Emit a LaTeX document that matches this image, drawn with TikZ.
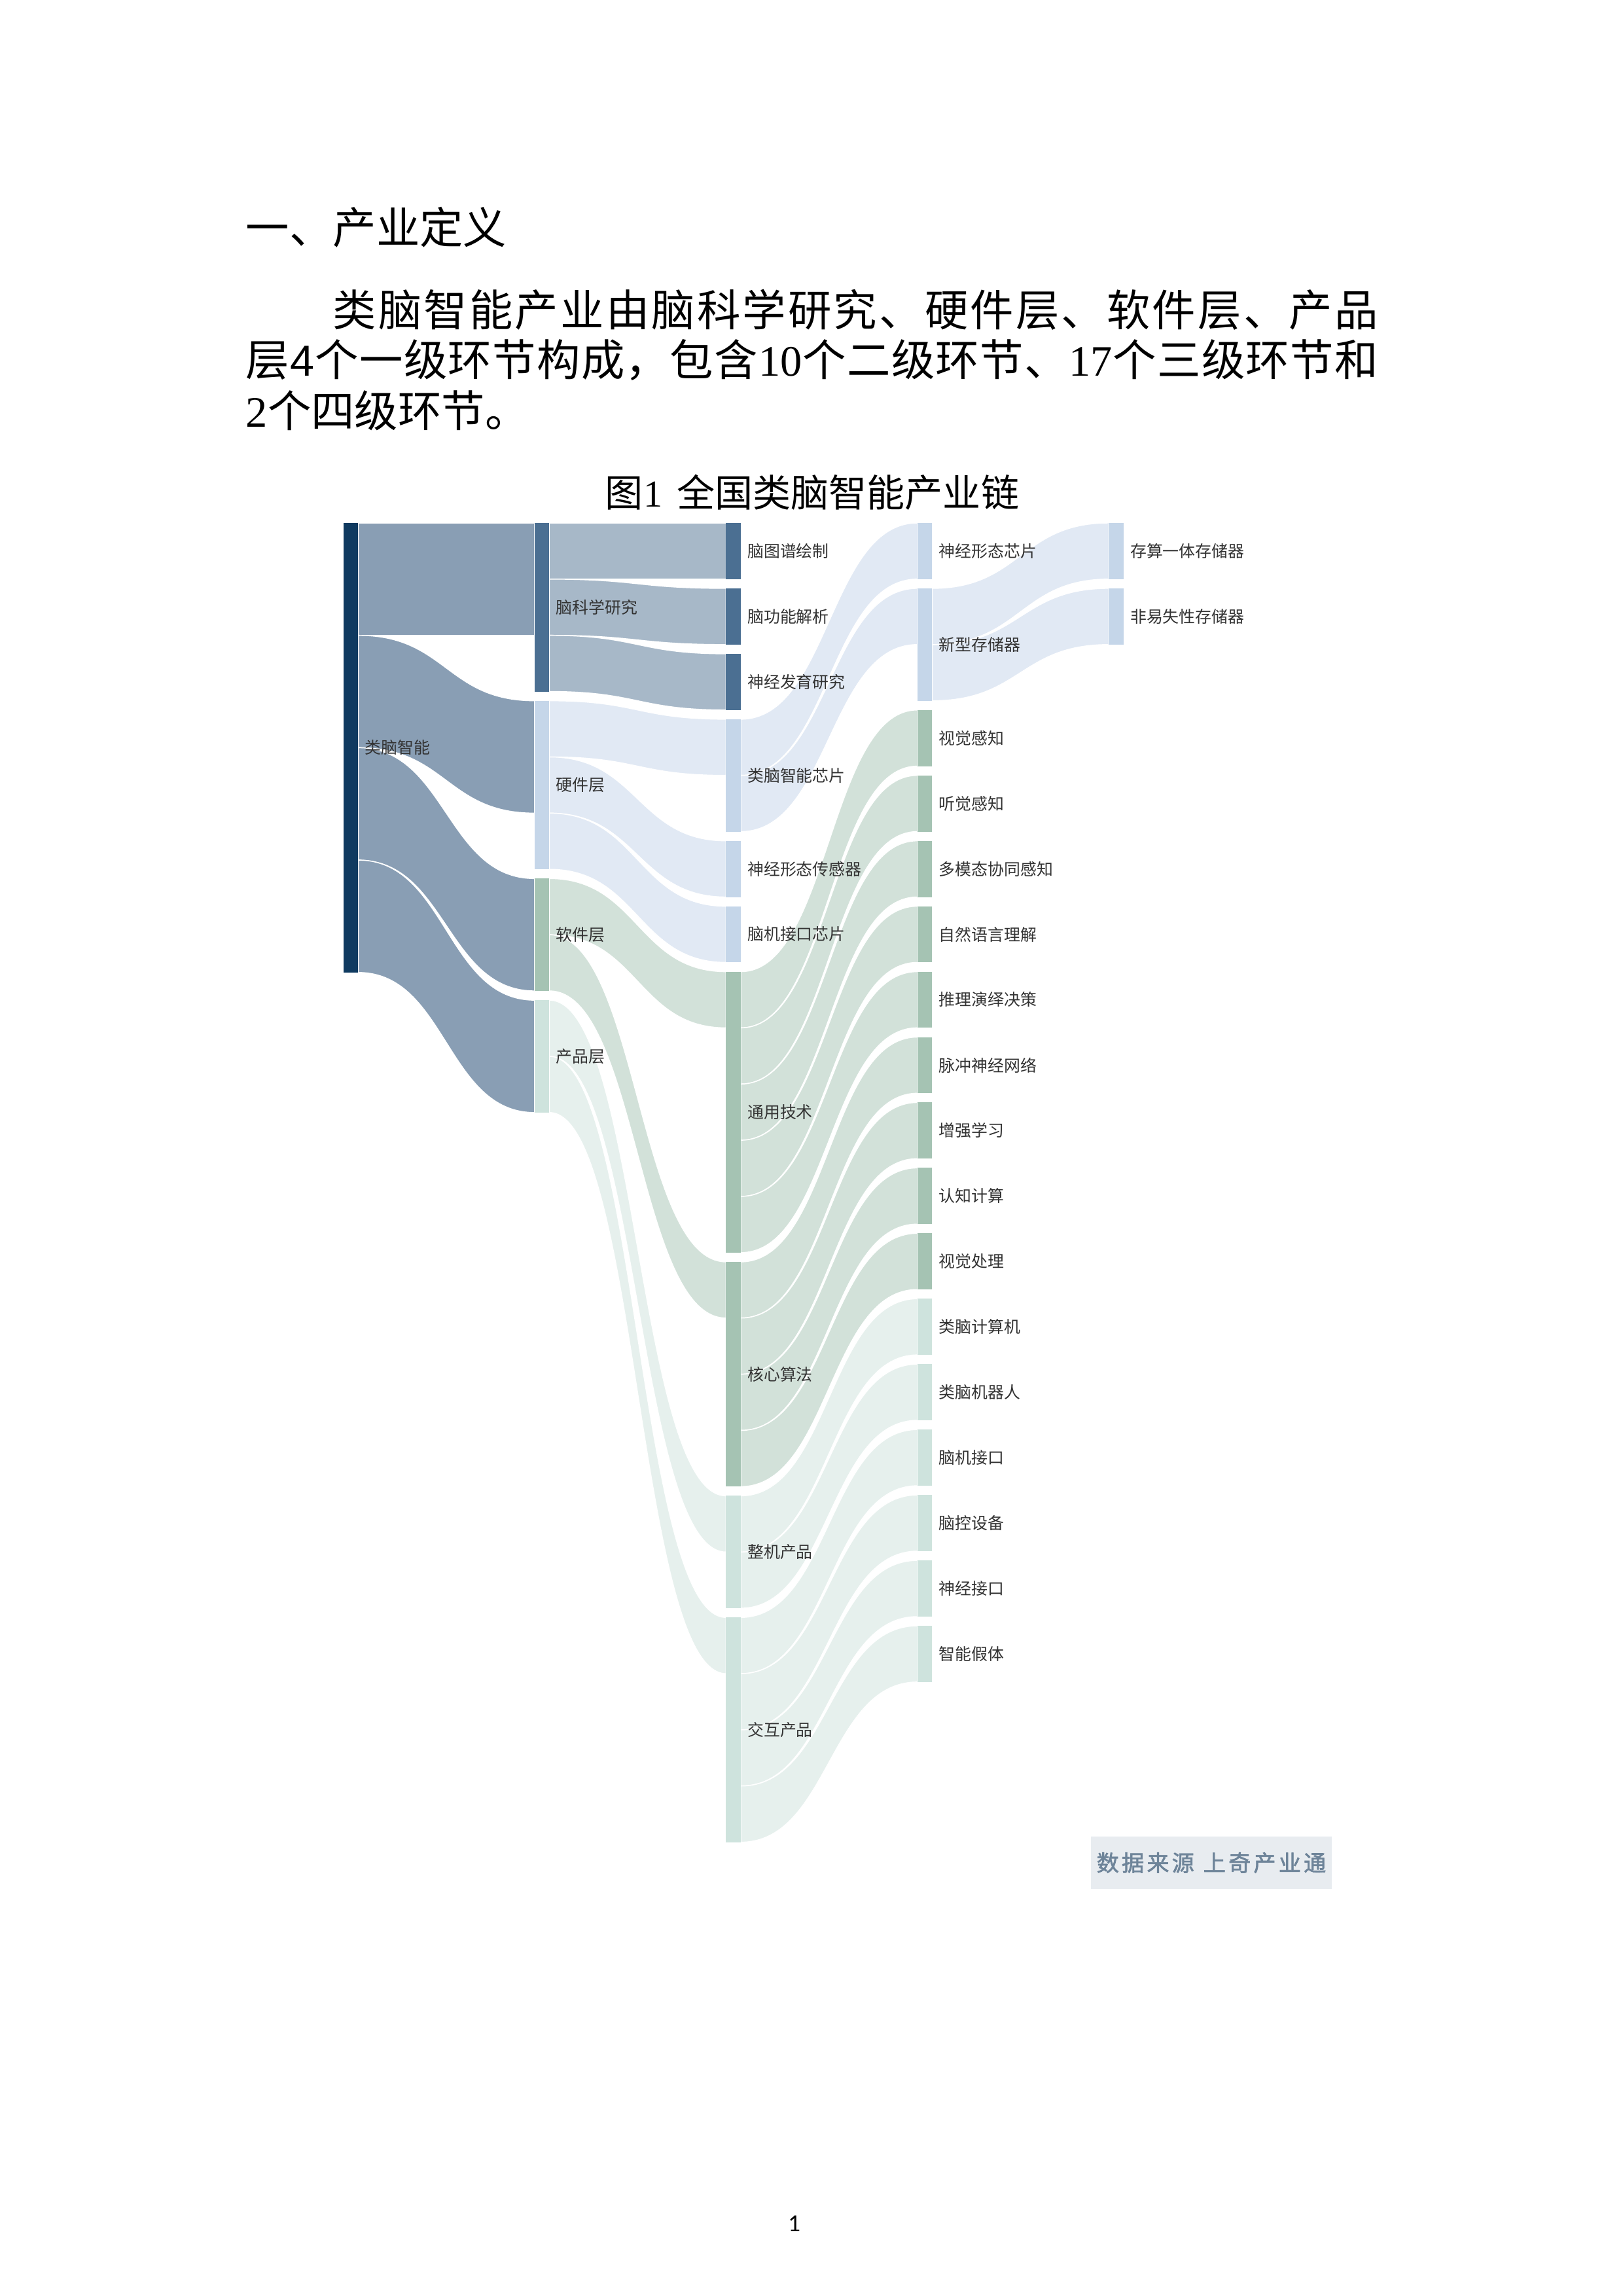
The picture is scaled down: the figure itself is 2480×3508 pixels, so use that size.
\documentclass[tikz,border=0pt]{standalone}
\usepackage{fontspec}
\setmainfont{Noto Sans CJK SC}
\newfontfamily\serifdig{Liberation Serif}
\newfontfamily\sansdig{Liberation Sans}
\newfontfamily\pagefont{Carlito}
\newfontfamily\cjkbold[FakeBold=2]{Noto Sans CJK SC}
\usetikzlibrary{calc,backgrounds}
\newdimen\pxu \pxu=0.0846667mm
\definecolor{cA}{RGB}{15,58,96}
\definecolor{cB}{RGB}{75,111,146}
\definecolor{cC}{RGB}{197,214,233}
\definecolor{cD}{RGB}{165,195,179}
\definecolor{cE}{RGB}{206,227,221}
\definecolor{lA}{RGB}{137,158,180}
\definecolor{lB}{RGB}{167,184,200}
\definecolor{lC}{RGB}{225,233,244}
\definecolor{lD}{RGB}{210,225,217}
\definecolor{lE}{RGB}{230,240,237}
\definecolor{lab}{RGB}{51,51,51}
\definecolor{legtxt}{RGB}{110,132,153}
\definecolor{legbg}{RGB}{232,236,240}
\def\sprd#1{\ifx#1\relax\else{#1}\hfil\expandafter\sprd\fi}
\newcommand\ls{\hspace{4.3\pxu}}
\newcommand\flow[6]{%
  \coordinate (fs) at ($(#1.north east)+(0,#2)$);
  \coordinate (ft) at ($(#3.north west)+(0,#4)$);
  \coordinate (fsb) at ($(fs)+(0,#5)$);
  \coordinate (ftb) at ($(ft)+(0,#5)$);
  \coordinate (fm) at ($(fs)!0.5!(ft)$);
  \fill[lnk, fill=#6] (fs) .. controls (fm|-fs) and (fm|-ft) .. (ft) -- (ftb) .. controls (fm|-ftb) and (fm|-fsb) .. (fsb) -- cycle;}
\tikzset{
  bar/.style={rectangle, inner sep=0pt, outer sep=0pt, minimum width=22.6\pxu, anchor=north west},
  lbl/.style={anchor=west, inner sep=0pt, text=lab, font=\fontsize{6}{7}\selectfont},
  lnk/.style={draw=white, line width=0.35pt},
  body/.style={anchor=west, inner sep=0pt, font=\fontsize{16}{19}\selectfont}
}
\begin{document}
\begin{tikzpicture}[x=0.0846667mm, y=-0.0846667mm]
\useasboundingbox (0,0) rectangle (2480,3508);
% text
\node[body] (h1) at (375,347) {一、产业定义};
\node[body] (p1) at (507.8,473) {\hbox to 1597\pxu{\sprd 类脑智能产业由脑科学研究、硬件层、软件层、产品\relax\unskip}};
\node[body] (p2) at (375,550) {\hbox to 1730\pxu{\sprd 层{\sansdig 4}个一级环节构成，包含{\serifdig 10}个二级环节、{\serifdig 17}个三级环节和\relax\unskip}};
\node[body] (p3) at (375,627) {{\serifdig 2}个四级环节。};
\node[anchor=center, inner sep=0pt, font=\fontsize{14}{16}\selectfont] (title) at (1241,752) {图{\serifdig 1}\hspace{22\pxu}全国类脑智能产业链};
% bars
\node[bar, fill=cA, minimum height=686.8\pxu] (A) at (524.5,799) {};
\node[bar, fill=cB, minimum height=257.55\pxu] (B1) at (816.8,799) {};
\node[bar, fill=cC, minimum height=257.55\pxu] (B2) at (816.8,1070.65) {};
\node[bar, fill=cD, minimum height=171.7\pxu] (B3) at (816.8,1342.3) {};
\node[bar, fill=cE, minimum height=171.7\pxu] (B4) at (816.8,1528.1) {};
\node[bar, fill=cB, minimum height=85.85\pxu] (C1) at (1109.3,799) {};
\node[bar, fill=cB, minimum height=85.85\pxu] (C2) at (1109.3,898.95) {};
\node[bar, fill=cB, minimum height=85.85\pxu] (C3) at (1109.3,998.9) {};
\node[bar, fill=cC, minimum height=171.7\pxu] (C4) at (1109.3,1098.85) {};
\node[bar, fill=cC, minimum height=85.85\pxu] (C5) at (1109.3,1284.65) {};
\node[bar, fill=cC, minimum height=85.85\pxu] (C6) at (1109.3,1384.6) {};
\node[bar, fill=cD, minimum height=429.25\pxu] (C7) at (1109.3,1484.55) {};
\node[bar, fill=cD, minimum height=343.4\pxu] (C8) at (1109.3,1927.9) {};
\node[bar, fill=cE, minimum height=171.7\pxu] (C9) at (1109.3,2285.4) {};
\node[bar, fill=cE, minimum height=343.4\pxu] (C10) at (1109.3,2471.2) {};
\node[bar, fill=cC, minimum height=85.85\pxu] (D1) at (1401.8,799) {};
\node[bar, fill=cC, minimum height=171.7\pxu] (D2) at (1401.8,898.95) {};
\foreach \i/\c in {3/cD,4/cD,5/cD,6/cD,7/cD,8/cD,9/cD,10/cD,11/cD,12/cE,13/cE,14/cE,15/cE,16/cE,17/cE}
  \node[bar, fill=\c, minimum height=85.85\pxu] (D\i) at (1401.8,{1084.75+(\i-3)*99.95}) {};
\node[bar, fill=cC, minimum height=85.85\pxu] (E1) at (1694.2,799) {};
\node[bar, fill=cC, minimum height=85.85\pxu] (E2) at (1694.2,898.95) {};
% labels
\foreach \n/\t in {A/类脑智能, B1/脑科学研究, B2/硬件层, B3/软件层, B4/产品层,
  C1/脑图谱绘制, C2/脑功能解析, C3/神经发育研究, C4/类脑智能芯片, C5/神经形态传感器,
  C6/脑机接口芯片, C7/通用技术, C8/核心算法, C9/整机产品, C10/交互产品,
  D1/神经形态芯片, D2/新型存储器, D3/视觉感知, D4/听觉感知, D5/多模态协同感知,
  D6/自然语言理解, D7/推理演绎决策, D8/脉冲神经网络, D9/增强学习, D10/认知计算,
  D11/视觉处理, D12/类脑计算机, D13/类脑机器人, D14/脑机接口, D15/脑控设备,
  D16/神经接口, D17/智能假体, E1/存算一体存储器, E2/非易失性存储器}
  \node[lbl] (t\n) at ($(\n.east)+(9.5,0)$) {\t};
% flows
\begin{pgfonlayer}{background}
\fill[white] (0,0) rectangle (2480,3508);
\flow{A}{0}{B1}{0}{171.7}{lA}
\flow{A}{171.7}{B2}{0}{171.7}{lA}
\flow{A}{343.4}{B3}{0}{171.7}{lA}
\flow{A}{515.1}{B4}{0}{171.7}{lA}
\flow{B1}{0}{C1}{0}{85.85}{lB}
\flow{B1}{85.85}{C2}{0}{85.85}{lB}
\flow{B1}{171.7}{C3}{0}{85.85}{lB}
\flow{B2}{0}{C4}{0}{85.85}{lC}
\flow{B2}{85.85}{C5}{0}{85.85}{lC}
\flow{B2}{171.7}{C6}{0}{85.85}{lC}
\flow{B3}{0}{C7}{0}{85.85}{lD}
\flow{B3}{85.85}{C8}{0}{85.85}{lD}
\flow{B4}{0}{C9}{0}{85.85}{lE}
\flow{B4}{85.85}{C10}{0}{85.85}{lE}
\flow{C4}{0}{D1}{0}{85.85}{lC}
\flow{C4}{85.85}{D2}{0}{85.85}{lC}
\flow{C7}{0}{D3}{0}{85.85}{lD}
\flow{C7}{85.85}{D4}{0}{85.85}{lD}
\flow{C7}{171.7}{D5}{0}{85.85}{lD}
\flow{C7}{257.55}{D6}{0}{85.85}{lD}
\flow{C7}{343.4}{D7}{0}{85.85}{lD}
\flow{C8}{0}{D8}{0}{85.85}{lD}
\flow{C8}{85.85}{D9}{0}{85.85}{lD}
\flow{C8}{171.7}{D10}{0}{85.85}{lD}
\flow{C8}{257.55}{D11}{0}{85.85}{lD}
\flow{C9}{0}{D12}{0}{85.85}{lE}
\flow{C9}{85.85}{D13}{0}{85.85}{lE}
\flow{C10}{0}{D14}{0}{85.85}{lE}
\flow{C10}{85.85}{D15}{0}{85.85}{lE}
\flow{C10}{171.7}{D16}{0}{85.85}{lE}
\flow{C10}{257.55}{D17}{0}{85.85}{lE}
\flow{D2}{0}{E1}{0}{85.85}{lC}
\flow{D2}{85.85}{E2}{0}{85.85}{lC}
\end{pgfonlayer}
% source box
\node[bar, fill=legbg, minimum width=368\pxu, minimum height=80\pxu] (src) at (1667,2806) {};
\node[inner sep=0pt, text=legtxt, font=\cjkbold\fontsize{8.2}{10}\selectfont] (srct) at (src.center) {数\ls 据\ls 来\ls 源\hspace{14\pxu}上\ls 奇\ls 产\ls 业\ls 通};
% page number
\node[inner sep=0pt, font=\pagefont\fontsize{9}{10}\selectfont] (pg) at (1213.7,3397.5) {1};
\end{tikzpicture}
\end{document}
